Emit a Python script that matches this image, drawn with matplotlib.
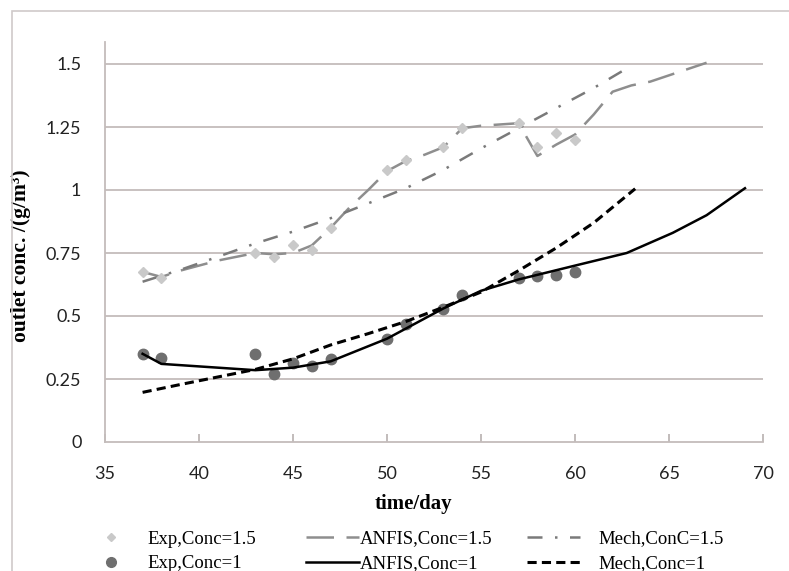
import matplotlib
matplotlib.use('Agg')
import matplotlib.pyplot as plt
from matplotlib.lines import Line2D
from matplotlib.patches import Rectangle

####################
# Data

exp_days = [37, 38, 43, 44, 45, 46, 47, 50, 51, 53, 54, 57, 58, 59, 60]
exp_15 = [0.675, 0.65, 0.75, 0.735, 0.78, 0.76, 0.85, 1.08, 1.12, 1.17, 1.245, 1.265, 1.17, 1.225, 1.2]
exp_1 = [0.348, 0.332, 0.348, 0.27, 0.315, 0.30, 0.328, 0.41, 0.467, 0.527, 0.583, 0.65, 0.66, 0.663, 0.676]

anfis15_days = [37, 38, 39, 40, 41, 42, 43, 44, 45, 46, 47, 48, 49, 50, 51, 52, 53, 54, 55, 56,
                57, 58, 59, 60, 61, 62, 63, 64, 65, 66, 67]
anfis15 = [0.675, 0.655, 0.68, 0.70, 0.72, 0.735, 0.75, 0.745, 0.75, 0.78, 0.85, 0.93, 1.0, 1.075,
           1.115, 1.14, 1.17, 1.245, 1.255, 1.26, 1.265, 1.135, 1.18, 1.22, 1.30, 1.39, 1.415,
           1.43, 1.455, 1.48, 1.505]

mech15_days = [37, 39, 41, 43, 45, 47, 49, 51, 53, 55, 57, 59, 61, 62.7]
mech15 = [0.636, 0.683, 0.735, 0.788, 0.835, 0.888, 0.947, 1.007, 1.08, 1.165, 1.245, 1.325, 1.405, 1.48]

anfis1_days = [37, 38, 40, 43, 45, 47, 50, 53, 55, 57, 60, 62.75, 65.2, 67, 69.04]
anfis1 = [0.35, 0.31, 0.30, 0.285, 0.295, 0.32, 0.41, 0.53, 0.60, 0.645, 0.70, 0.75, 0.83, 0.90, 1.007]

mech1_days = [37, 39, 41, 43, 45, 47, 49, 51, 53, 55, 57, 59, 61, 63.2]
mech1 = [0.197, 0.228, 0.258, 0.288, 0.33, 0.385, 0.43, 0.478, 0.535, 0.595, 0.68, 0.77, 0.87, 1.005]

xticks = [35, 40, 45, 50, 55, 60, 65, 70]
yticks = [0, 0.25, 0.5, 0.75, 1, 1.25, 1.5]
ytick_labels = ['0', '0.25', '0.5', '0.75', '1', '1.25', '1.5']

####################
# Figure

W, H = 789, 571
fig = plt.figure(figsize=(W / 100, H / 100), dpi=100)
ax = fig.add_axes([105 / W, 1 - 442 / H, (763 - 105) / W, 400 / H])

# chart border (Excel style)
fig.patches.append(Rectangle((12 / W, -0.1), 1.2, 1 - 11 / H + 0.1, transform=fig.transFigure,
                             fill=False, edgecolor='#cfcaca', linewidth=1.2))

grid_c = '#c4bcbb'
for y in yticks[1:]:
    ax.axhline(y, color=grid_c, linewidth=1.3, zorder=0)

ax.plot(exp_days, exp_15, linestyle='none', marker='D', markersize=5, color='#c9c9c9', zorder=3)
l_anf15, = ax.plot(anfis15_days, anfis15, color='#8e8e8e', linewidth=1.8, dashes=(11, 5), zorder=2)
l_mech15, = ax.plot(mech15_days, mech15, color='#7a7a7a', linewidth=1.8, dashes=(6, 5, 1, 5), zorder=2)
ax.plot(exp_days, exp_1, linestyle='none', marker='o', markersize=7.5, color='#6f6f6f', zorder=3)
l_anf1, = ax.plot(anfis1_days, anfis1, color='black', linewidth=1.8, zorder=4)
l_mech1, = ax.plot(mech1_days, mech1, color='black', linewidth=2.2, dashes=(3, 1.7), zorder=4)

ax.set_xlim(35, 70)
ax.set_ylim(0, 400 / 252)
ax.set_xticks(xticks)
ax.set_yticks(yticks)
ax.set_yticklabels(ytick_labels)

for s in ['top', 'right']:
    ax.spines[s].set_visible(False)
for s in ['left', 'bottom']:
    ax.spines[s].set_color('#c4bcbb')
    ax.spines[s].set_linewidth(1.3)

ax.tick_params(axis='x', direction='in', length=6, width=1.2, color='#b8b0af', pad=17,
               labelsize=13, labelcolor='#222222')
ax.tick_params(axis='y', length=0, pad=17, labelsize=13, labelcolor='#222222')
for lab in ax.get_xticklabels() + ax.get_yticklabels():
    lab.set_family('Lato')

ax.set_xlabel('time/day', family='Liberation Serif', fontweight='bold', fontsize=15)
ax.xaxis.set_label_coords(0.468, -0.13)
ax.set_ylabel('outlet conc. /(g/m³)', family='Liberation Serif', fontweight='bold', fontsize=15.5)
ax.yaxis.set_label_coords(-0.112, 0.465)

####################
# Legend: three columns, two rows each

h_exp15 = Line2D([], [], linestyle='none', marker='D', markersize=4, color='#c9c9c9')
h_exp1 = Line2D([], [], linestyle='none', marker='o', markersize=7, color='#6f6f6f')

leg_kw = dict(frameon=False, loc='upper left', borderpad=0, labelspacing=0.4,
              handlelength=2.8, prop={'family': 'Liberation Serif', 'size': 13.5})

top = 1 - 521 / H
fig.legend([h_exp15, h_exp1], ['Exp,Conc=1.5', 'Exp,Conc=1'],
           bbox_to_anchor=(75 / W, top), handletextpad=0.55, **leg_kw)
fig.legend([l_anf15, l_anf1], ['ANFIS,Conc=1.5', 'ANFIS,Conc=1'],
           bbox_to_anchor=(297 / W, top), handletextpad=0.05, **leg_kw)
fig.legend([l_mech15, l_mech1], ['Mech,ConC=1.5', 'Mech,Conc=1'],
           bbox_to_anchor=(518 / W, top), handletextpad=1.0, **leg_kw)

fig.savefig('out.png', dpi=100)
